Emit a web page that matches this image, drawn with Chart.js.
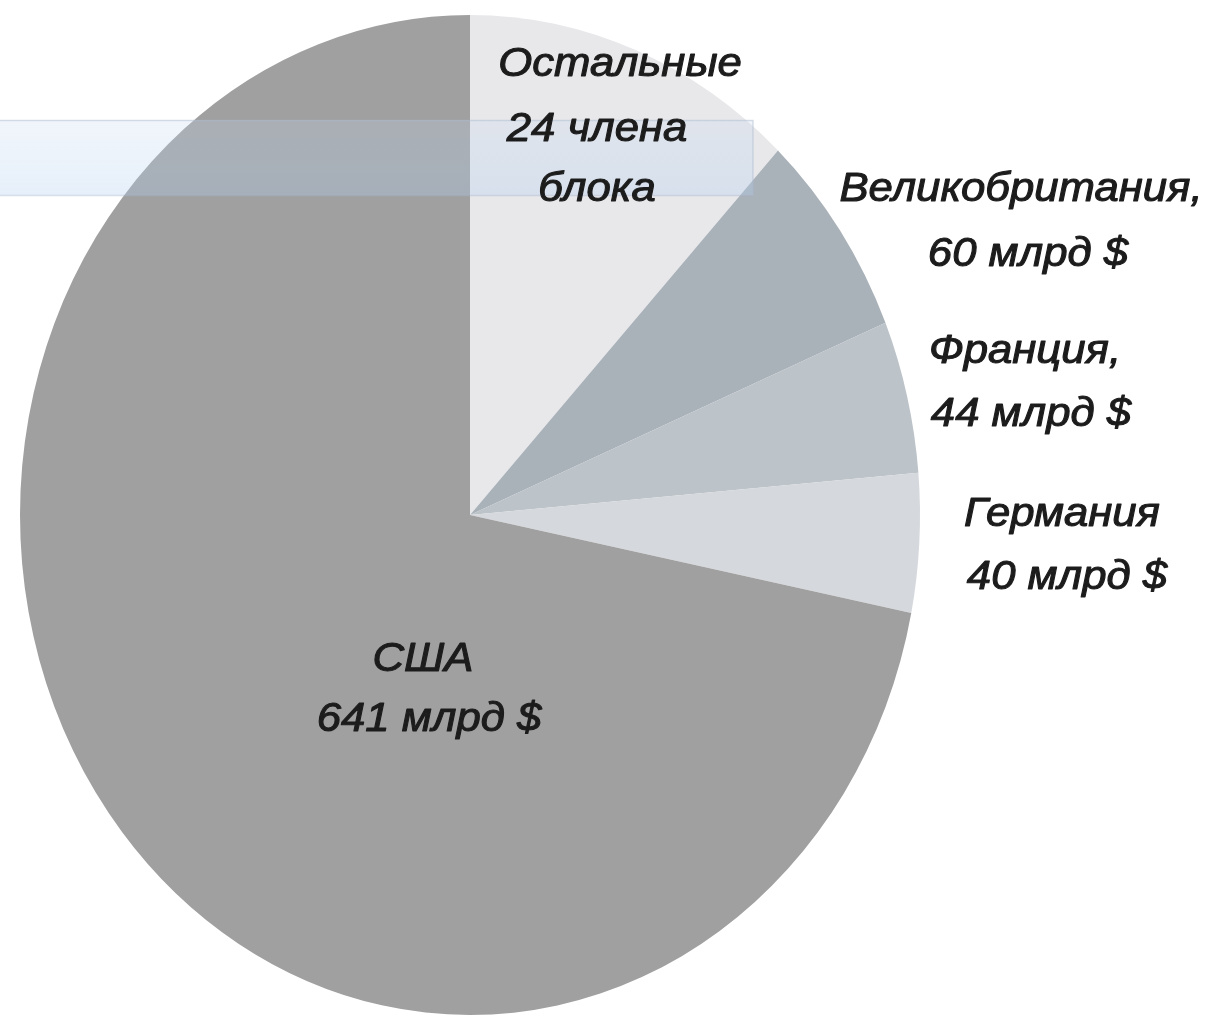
<!DOCTYPE html>
<html lang="ru">
<head>
  <meta charset="UTF-8" />
  <title>Военные расходы НАТО</title>
  <script src="https://cdn.jsdelivr.net/npm/chart.js"></script>
  <style>
    html, body { margin: 0; padding: 0; background: #fff; }
    canvas { display: block; }
  </style>
</head>
<body>
<canvas id="pie" width="1222" height="1018"></canvas>
<script>
  // slices clockwise from 12 o'clock, млрд $
  const countries = ["Остальные", "Великобритания", "Франция", "Германия", "США"];
  const spending = [107, 60, 44, 40, 641];
  const sliceColors = ["#e8e8eb", "#a9b1b9", "#bcc3c9", "#d5d8dc", "#a0a0a0"];

  const unit = "млрд $";

  // label lines: [text, x, y]
  const labelLines = [
    ["Остальные", 620, 65],
    ["24 члена", 597, 130],
    ["блока", 597, 190],
    [countries[1] + ",", 1021, 190],
    [spending[1] + " " + unit, 1028, 255],
    [countries[2] + ",", 1025, 352],
    [spending[2] + " " + unit, 1031, 415],
    [countries[3], 1062, 515],
    [spending[3] + " " + unit, 1067, 578],
    [countries[4], 423, 660],
    [spending[4] + " " + unit, 429, 720]
  ];

  const yStretch = 500 / 450; // the pie is drawn as a tall ellipse

  const ellipsePlugin = {
    id: "ellipse",
    beforeDatasetsDraw(chart) {
      const arc = chart.getDatasetMeta(0).data[0];
      const ctx = chart.ctx;
      ctx.save();
      ctx.translate(arc.x, arc.y);
      ctx.scale(1, yStretch);
      ctx.translate(-arc.x, -arc.y);
    },
    afterDatasetsDraw(chart) {
      const ctx = chart.ctx;
      ctx.restore();

      // translucent blue selection band across the top
      const top = 120, bottom = 195, right = 753;
      const g = ctx.createLinearGradient(0, top, 0, bottom);
      g.addColorStop(0, "rgba(200,218,240,0.26)");
      g.addColorStop(1, "rgba(178,208,240,0.32)");
      ctx.save();
      ctx.fillStyle = g;
      ctx.fillRect(0, top, right, bottom - top);
      ctx.strokeStyle = "rgba(170,185,205,0.45)";
      ctx.lineWidth = 1.5;
      ctx.strokeRect(-2, top + 0.5, right + 2, bottom - top);
      ctx.restore();
    }
  };

  const labelPlugin = {
    id: "labels",
    afterDraw(chart) {
      const ctx = chart.ctx;
      ctx.save();
      ctx.font = 'italic 38px "Liberation Sans", Arial, sans-serif';
      ctx.fillStyle = "#1c1c1c";
      ctx.strokeStyle = "#1c1c1c";
      ctx.lineWidth = 1;
      ctx.lineJoin = "round";
      ctx.textAlign = "center";
      ctx.textBaseline = "middle";
      labelLines.forEach(([text, x, y]) => {
        ctx.save();
        ctx.translate(x, y);
        ctx.scale(1.15, 1.05);
        ctx.fillText(text, 0, 0);
        ctx.strokeText(text, 0, 0); // a touch heavier than regular
        ctx.restore();
      });
      ctx.restore();
    }
  };

  new Chart(document.getElementById("pie"), {
    type: "pie",
    data: {
      labels: countries,
      datasets: [{
        data: spending,
        backgroundColor: sliceColors,
        borderWidth: 0
      }]
    },
    options: {
      responsive: false,
      devicePixelRatio: 1,
      animation: false,
      layout: { padding: { left: 20, top: 65, right: 302, bottom: 53 } },
      plugins: {
        legend: { display: false },
        tooltip: { enabled: false }
      }
    },
    plugins: [ellipsePlugin, labelPlugin]
  });
</script>
</body>
</html>
